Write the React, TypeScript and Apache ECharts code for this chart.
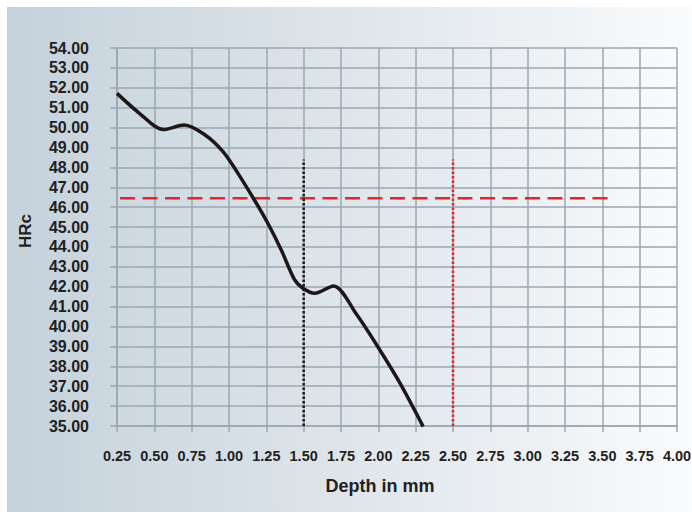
import React, { useEffect, useRef } from "react";
import * as echarts from "echarts";

const depth = [0.25, 0.4, 0.56, 0.7, 0.84, 0.96, 1.06, 1.17, 1.26, 1.35, 1.44, 1.5, 1.575, 1.7, 1.855, 2.01, 2.145, 2.3];
const hrc = [51.72, 50.72, 49.9, 50.13, 49.63, 48.79, 47.7, 46.36, 45.19, 43.85, 42.34, 41.9, 41.67, 42.04, 40.6, 38.82, 37.15, 34.97];

const limitHrc = 46.45;
const limitSpan = [0.27, 3.57];
const blackDotted = { x: 1.5, from: 35, to: 48.4 };
const redDotted = { x: 2.5, from: 35, to: 48.4 };

const xMin = 0.25;
const xMax = 4.0;
const xStep = 0.25;
const yMin = 35;
const yMax = 54;
const yStep = 1;

const FONT = "'Liberation Sans', Arial, sans-serif";
const GRID = "#9ba7af";
const RED = "#e1262e";

export default function App() {
  const ref = useRef<HTMLDivElement>(null);
  useEffect(() => {
    document.body.style.margin = "0";
    if (!ref.current) return;
    const chart = echarts.init(ref.current, undefined, { renderer: "svg" });
    chart.setOption({
      animation: false,
      grid: { left: 117, top: 48, right: 15, bottom: 92, containLabel: false, outerBoundsMode: "none" },
      xAxis: {
        type: "value",
        min: xMin,
        max: xMax,
        interval: xStep,
        axisLine: { show: true, lineStyle: { color: GRID, width: 1.5 } },
        axisTick: { show: true, length: 6, lineStyle: { color: GRID, width: 1.5 } },
        splitLine: { show: true, lineStyle: { color: GRID, width: 1.5 } },
        axisLabel: {
          margin: 22,
          color: "#231f20",
          fontFamily: FONT,
          fontWeight: "bold",
          fontSize: 14.5,
          formatter: (v: number) => v.toFixed(2),
        },
      },
      yAxis: {
        type: "value",
        min: yMin,
        max: yMax,
        interval: yStep,
        axisLine: { show: true, lineStyle: { color: GRID, width: 1.5 } },
        axisTick: { show: true, length: 7, lineStyle: { color: GRID, width: 1.5 } },
        splitLine: { show: true, lineStyle: { color: GRID, width: 1.5 } },
        axisLabel: {
          margin: 28,
          color: "#231f20",
          fontFamily: FONT,
          fontWeight: "bold",
          fontSize: 16,
          formatter: (v: number) => v.toFixed(2),
        },
      },
      series: [
        {
          type: "line",
          data: limitSpan.map((x) => [x, limitHrc]),
          symbol: "none",
          lineStyle: { color: RED, width: 2.5, type: [15, 7.5] },
          z: 3,
        },
        {
          type: "line",
          data: [[blackDotted.x, blackDotted.from], [blackDotted.x, blackDotted.to]],
          symbol: "none",
          lineStyle: { color: "#1a1a1a", width: 2.5, type: [2.5, 2] },
          z: 3,
        },
        {
          type: "line",
          data: [[redDotted.x, redDotted.from], [redDotted.x, redDotted.to]],
          symbol: "none",
          lineStyle: { color: RED, width: 2.5, type: [2.5, 2] },
          z: 3,
        },
        {
          type: "line",
          data: depth.map((d, i) => [d, hrc[i]]),
          symbol: "none",
          smooth: 0.3,
          lineStyle: { color: "#1c1819", width: 3.5 },
          z: 4,
        },
      ],
      graphic: [
        {
          type: "text",
          x: 380,
          y: 486,
          style: {
            text: "Depth in mm",
            fill: "#231f20",
            font: `bold 18px ${FONT}`,
            align: "center",
            verticalAlign: "middle",
          },
        },
        {
          type: "text",
          x: 25,
          y: 231,
          rotation: Math.PI / 2,
          style: {
            text: "HRc",
            fill: "#231f20",
            font: `bold 17px ${FONT}`,
            align: "center",
            verticalAlign: "middle",
          },
        },
      ],
    });
    return () => chart.dispose();
  }, []);
  return (
    <div style={{ position: "relative", width: 692, height: 518, background: "#ffffff", overflow: "hidden" }}>
      <div
        style={{
          position: "absolute",
          left: 7,
          top: 7,
          width: 685,
          height: 505,
          background: "linear-gradient(to right, #c5d2db 0%, #dce3e9 45%, #fafbfc 100%)",
        }}
      />
      <div ref={ref} style={{ position: "absolute", left: 0, top: 0, width: 692, height: 518 }} />
    </div>
  );
}
